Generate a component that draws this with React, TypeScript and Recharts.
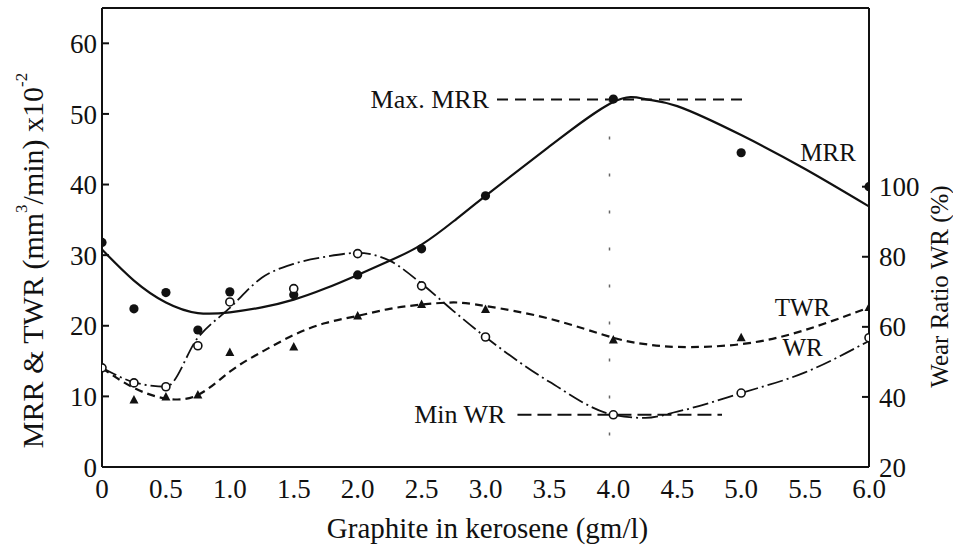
import { ComposedChart, Line, Scatter, XAxis, YAxis, ReferenceLine, ReferenceDot, Label } from "recharts";

// axis ticks
const xTicks = [0, 0.5, 1, 1.5, 2, 2.5, 3, 3.5, 4, 4.5, 5, 5.5, 6];
const leftTicks = [0, 10, 20, 30, 40, 50, 60];
const rightTicks = [20, 40, 60, 80, 100];

// measured points (graphite gm/l)
const pointX = [0, 0.25, 0.5, 0.75, 1, 1.5, 2, 2.5, 3, 4, 5, 6];
const mrrMarks = [31.8, 22.4, 24.7, 19.4, 24.8, 24.4, 27.2, 30.9, 38.4, 52.1, 44.5, 39.7];
const twrMarks = [null, 9.5, 9.9, 10.2, 16.2, 17.0, 21.4, 23.0, 22.3, 18.0, 18.3, 22.6];
const wrMarks = [48.3, 44.0, 42.9, 54.6, 67.1, 70.9, 80.9, 71.7, 57.1, 34.9, 41.1, 56.9];

// fitted curves
const curveX = [0, 0.25, 0.5, 0.75, 1, 1.25, 1.5, 1.75, 2, 2.25, 2.5, 2.75, 3, 3.5, 4, 4.25, 4.5, 5, 5.5, 6];
const mrrCurve = [30.8, 26.4, 23.3, 21.8, 21.9, 22.6, 23.7, 25.3, 27.2, 29.2, 31.5, 34.8, 38.4, 45.4, 51.7, 52.1, 51.1, 47.0, 42.2, 36.9];
const twrCurve = [14.0, 11.2, 9.7, 10.2, 13.5, 16.3, 18.7, 20.4, 21.4, 22.4, 23.0, 23.3, 22.8, 21.0, 18.3, 17.4, 17.0, 17.4, 19.4, 22.6];
const wrCurve = [48.3, 44.2, 42.9, 56.9, 65.4, 74.0, 78.0, 80.0, 81.1, 78.9, 72.3, 64.5, 57.1, 44.3, 34.9, 34.0, 35.8, 41.1, 47.0, 56.0];

// annotations
const maxMrr = 52.06;
const minWr = 34.9;
const optimumX = 3.97;

const toPts = (xs: number[], ys: (number | null)[]) =>
  xs.map((x, i) => ({ x, y: ys[i] })).filter((p) => p.y !== null);

const FONT = '"Liberation Serif", "Times New Roman", serif';
const INK = "#111";

const OpenCircle = (p: any) => (
  <circle cx={p.cx} cy={p.cy} r={4} fill="#fff" stroke={INK} strokeWidth={1.6} />
);
const FilledDot = (p: any) => <circle cx={p.cx} cy={p.cy} r={4.6} fill={INK} />;
const Triangle = (p: any) => (
  <polygon
    points={`${p.cx},${p.cy - 5} ${p.cx - 4.5},${p.cy + 3.5} ${p.cx + 4.5},${p.cy + 3.5}`}
    fill={INK}
  />
);

const LeftTitle = (props: any) => {
  const vb = props.viewBox || { x: 42, y: 8, width: 60, height: 459 };
  const cx = vb.x - 10;
  const cy = vb.y + vb.height / 2 + 23;
  return (
    <text
      x={cx}
      y={cy}
      transform={`rotate(-90 ${cx} ${cy})`}
      textAnchor="middle"
      dominantBaseline="central"
      fontSize={30}
      fontFamily={FONT}
      fill={INK}
    >
      MRR &amp; TWR (mm
      <tspan dy={-11} fontSize={17}>3</tspan>
      <tspan dy={11}>/min) x10</tspan>
      <tspan dy={-11} fontSize={17}>-2</tspan>
    </text>
  );
};

const RightTitle = (props: any) => {
  const vb = props.viewBox || { x: 869, y: 8, width: 60, height: 459 };
  const cx = vb.x + 70;
  const cy = vb.y + vb.height / 2 + 49;
  return (
    <text
      x={cx}
      y={cy}
      transform={`rotate(-90 ${cx} ${cy})`}
      textAnchor="middle"
      dominantBaseline="central"
      fontSize={25}
      fontFamily={FONT}
      fill={INK}
    >
      Wear Ratio WR (%)
    </text>
  );
};

const BottomTitle = (props: any) => {
  const vb = props.viewBox || { x: 102, y: 467, width: 767, height: 40 };
  return (
    <text
      x={vb.x + vb.width / 2 + 2}
      y={vb.y + 61}
      textAnchor="middle"
      dominantBaseline="central"
      fontSize={29}
      fontFamily={FONT}
      fill={INK}
    >
      Graphite in kerosene (gm/l)
    </text>
  );
};

// text placed next to a data point
const note = (text: string, anchor: "start" | "middle" | "end", dx = 0, size = 26) =>
  (props: any) => {
    const vb = props.viewBox || { x: 0, y: 0 };
    return (
      <text
        x={vb.x + dx}
        y={vb.y}
        textAnchor={anchor}
        dominantBaseline="central"
        fontSize={size}
        fontFamily={FONT}
        fill={INK}
      >
        {text}
      </text>
    );
  };

const tickStyle = { fontSize: 27, fontFamily: FONT, fill: INK };

export default function App() {
  return (
    <div style={{ position: "absolute", left: 0, top: 0, width: 953, height: 552, background: "#fff" }}>
      <ComposedChart width={953} height={552} margin={{ top: 8, right: 24, bottom: 45, left: 42 }}>
        <XAxis
          type="number"
          dataKey="x"
          domain={[0, 6]}
          ticks={xTicks}
          interval={0}
          tickFormatter={(v: number) => (v === 0 ? "0" : v.toFixed(1))}
          tickLine={false}
          tickSize={0}
          tickMargin={12}
          tick={tickStyle}
          axisLine={{ stroke: INK, strokeWidth: 2 }}
          height={40}
          allowDataOverflow
        >
          <Label content={BottomTitle} />
        </XAxis>
        <YAxis
          yAxisId="left"
          type="number"
          domain={[0, 65]}
          ticks={leftTicks}
          interval={0}
          tickSize={-7}
          tickMargin={12}
          tick={tickStyle}
          tickLine={{ stroke: INK, strokeWidth: 2 }}
          axisLine={{ stroke: INK, strokeWidth: 2 }}
          width={60}
          allowDataOverflow
        >
          <Label content={LeftTitle} />
        </YAxis>
        <YAxis
          yAxisId="right"
          orientation="right"
          type="number"
          domain={[20, 151]}
          ticks={rightTicks}
          interval={0}
          tickSize={-7}
          tickMargin={17}
          tick={tickStyle}
          tickLine={{ stroke: INK, strokeWidth: 2 }}
          axisLine={{ stroke: INK, strokeWidth: 2 }}
          width={60}
          allowDataOverflow
        >
          <Label content={RightTitle} />
        </YAxis>

        <ReferenceLine yAxisId="left" y={65} stroke={INK} strokeWidth={2} />

        <ReferenceLine
          yAxisId="left"
          segment={[{ x: 3.09, y: maxMrr }, { x: 5.01, y: maxMrr }]}
          stroke={INK}
          strokeWidth={2}
          strokeDasharray="11 7"
        />
        <ReferenceLine
          yAxisId="right"
          segment={[{ x: 3.25, y: minWr }, { x: 4.85, y: minWr }]}
          stroke={INK}
          strokeWidth={2}
          strokeDasharray="14 6"
        />
        <ReferenceLine
          yAxisId="left"
          segment={[{ x: optimumX, y: maxMrr }, { x: optimumX, y: 4 }]}
          stroke="#666"
          strokeWidth={1.5}
          strokeDasharray="3 34"
        />

        <Line
          yAxisId="left"
          data={toPts(curveX, mrrCurve)}
          dataKey="y"
          type="natural"
          stroke={INK}
          strokeWidth={2.2}
          dot={false}
          activeDot={false}
          isAnimationActive={false}
        />
        <Line
          yAxisId="left"
          data={toPts(curveX, twrCurve)}
          dataKey="y"
          type="natural"
          stroke={INK}
          strokeWidth={2.2}
          strokeDasharray="8 5"
          dot={false}
          activeDot={false}
          isAnimationActive={false}
        />
        <Line
          yAxisId="right"
          data={toPts(curveX, wrCurve)}
          dataKey="y"
          type="monotone"
          stroke={INK}
          strokeWidth={1.8}
          strokeDasharray="16 4 2 4"
          dot={false}
          activeDot={false}
          isAnimationActive={false}
        />

        <Scatter yAxisId="left" data={toPts(pointX, mrrMarks)} dataKey="y" shape={FilledDot} isAnimationActive={false} />
        <Scatter yAxisId="left" data={toPts(pointX, twrMarks)} dataKey="y" shape={Triangle} isAnimationActive={false} />
        <Scatter yAxisId="right" data={toPts(pointX, wrMarks)} dataKey="y" shape={OpenCircle} isAnimationActive={false} />

        <ReferenceDot yAxisId="left" x={3.09} y={maxMrr} r={0.01} fill="none" stroke="none">
          <Label content={note("Max. MRR", "end", -8)} />
        </ReferenceDot>
        <ReferenceDot yAxisId="right" x={3.25} y={minWr} r={0.01} fill="none" stroke="none">
          <Label content={note("Min WR", "end", -12)} />
        </ReferenceDot>
        <ReferenceDot yAxisId="left" x={5.68} y={44.5} r={0.01} fill="none" stroke="none">
          <Label content={note("MRR", "middle", 0, 25)} />
        </ReferenceDot>
        <ReferenceDot yAxisId="left" x={5.48} y={22.6} r={0.01} fill="none" stroke="none">
          <Label content={note("TWR", "middle", 0, 25)} />
        </ReferenceDot>
        <ReferenceDot yAxisId="left" x={5.48} y={16.9} r={0.01} fill="none" stroke="none">
          <Label content={note("WR", "middle", 0, 25)} />
        </ReferenceDot>
      </ComposedChart>
    </div>
  );
}
